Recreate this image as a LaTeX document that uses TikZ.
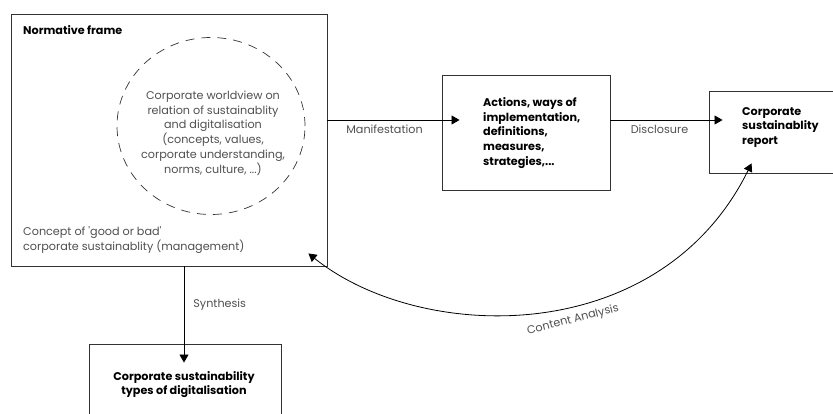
\documentclass[tikz,border=0pt]{standalone}
\usepackage{fontspec}
\setmainfont{Poppins}
\usetikzlibrary{arrows.meta,positioning,shapes.geometric}
\definecolor{framedark}{RGB}{51,51,51}
\definecolor{notegray}{RGB}{80,80,80}

\begin{document}
\begin{tikzpicture}[x=1pt, y=-1pt,
  every node/.style={font=\fontsize{11.2}{14.8}\selectfont, inner sep=0pt},
  box/.style={draw=framedark, line width=0.9pt, minimum width=#1},
  bold/.style={font=\fontsize{11.2}{14.8}\selectfont\bfseries, align=left},
  note/.style={text=notegray, align=left},
  arr/.style={-{Triangle[length=8pt, width=9pt]}, line width=0.8pt},
  biarr/.style={{Triangle[length=8pt, width=9pt]}-{Triangle[length=8pt, width=9pt]}, line width=0.8pt}
]
  \clip (0,0) rectangle (833,414);
  \fill[white] (0,0) rectangle (833,414);

  % boxes
  \node[box=316pt, minimum height=252pt] (frame) at (169,140)   {};
  \node[box=168pt, minimum height=115pt] (act)   at (526,132.5) {};
  \node[box=136pt, minimum height=82pt]  (rep)   at (777,132)   {};
  \node[box=192pt, minimum height=80pt]  (syn)   at (185,384)   {};

  % worldview inside the frame
  \node[draw=framedark, ellipse, dash pattern=on 9pt off 7pt, line width=0.7pt,
        minimum width=188pt, minimum height=177pt] (view) at (211,126) {};

  \node[bold, anchor=west] (frametitle) at (23,30) {Normative frame};
  \node[note, align=center] (viewtext) at (213,133)
    {Corporate worldview on\\relation of sustainablity\\and digitalisation\\(concepts, values,\\corporate understanding,\\norms, culture, ...)};
  \node[note, anchor=west] (concept) at (23,240)
    {Concept of \textquotesingle good or bad\textquotesingle\\corporate sustainablity (management)};

  \node[bold, anchor=west] (acttext) at (483,133)
    {Actions, ways of\\implementation,\\definitions,\\measures,\\strategies,...};
  \node[bold, anchor=west] (reptext) at (742,127.5) {Corporate\\sustainablity\\report};
  \node[bold, align=center] (syntext) at (184,384.5) {Corporate sustainability\\types of digitalisation};

  % connectors
  \coordinate (maniend) at ([yshift=12.5pt]act.west);
  \coordinate (discend) at ([yshift=12pt]rep.west);
  \draw[arr, shorten >=-18pt] (maniend -| frame.east) -- node[note, below=5pt] (manilbl) {Manifestation} (maniend);
  \draw[arr, shorten >=-14pt] (discend -| act.east) -- node[note, below=5pt] (disclbl) {Disclosure} (discend);

  \coordinate (synend) at ([xshift=-1pt]syn.north);
  \draw[arr, shorten >=-19pt] (synend |- frame.south) -- node[note, right=9pt] (synlbl) {Synthesis} (synend);

  \coordinate (caleft)  at ([xshift=-19pt, yshift=13pt]frame.south east);
  \coordinate (caright) at ([xshift=43pt, yshift=10pt]rep.south west);
  \draw[biarr] (caleft) .. controls +(112,90) and +(-92,186) .. (caright);
  \node[note, rotate=14] (calbl) at (573,320) {Content Analysis};
\end{tikzpicture}
\end{document}
